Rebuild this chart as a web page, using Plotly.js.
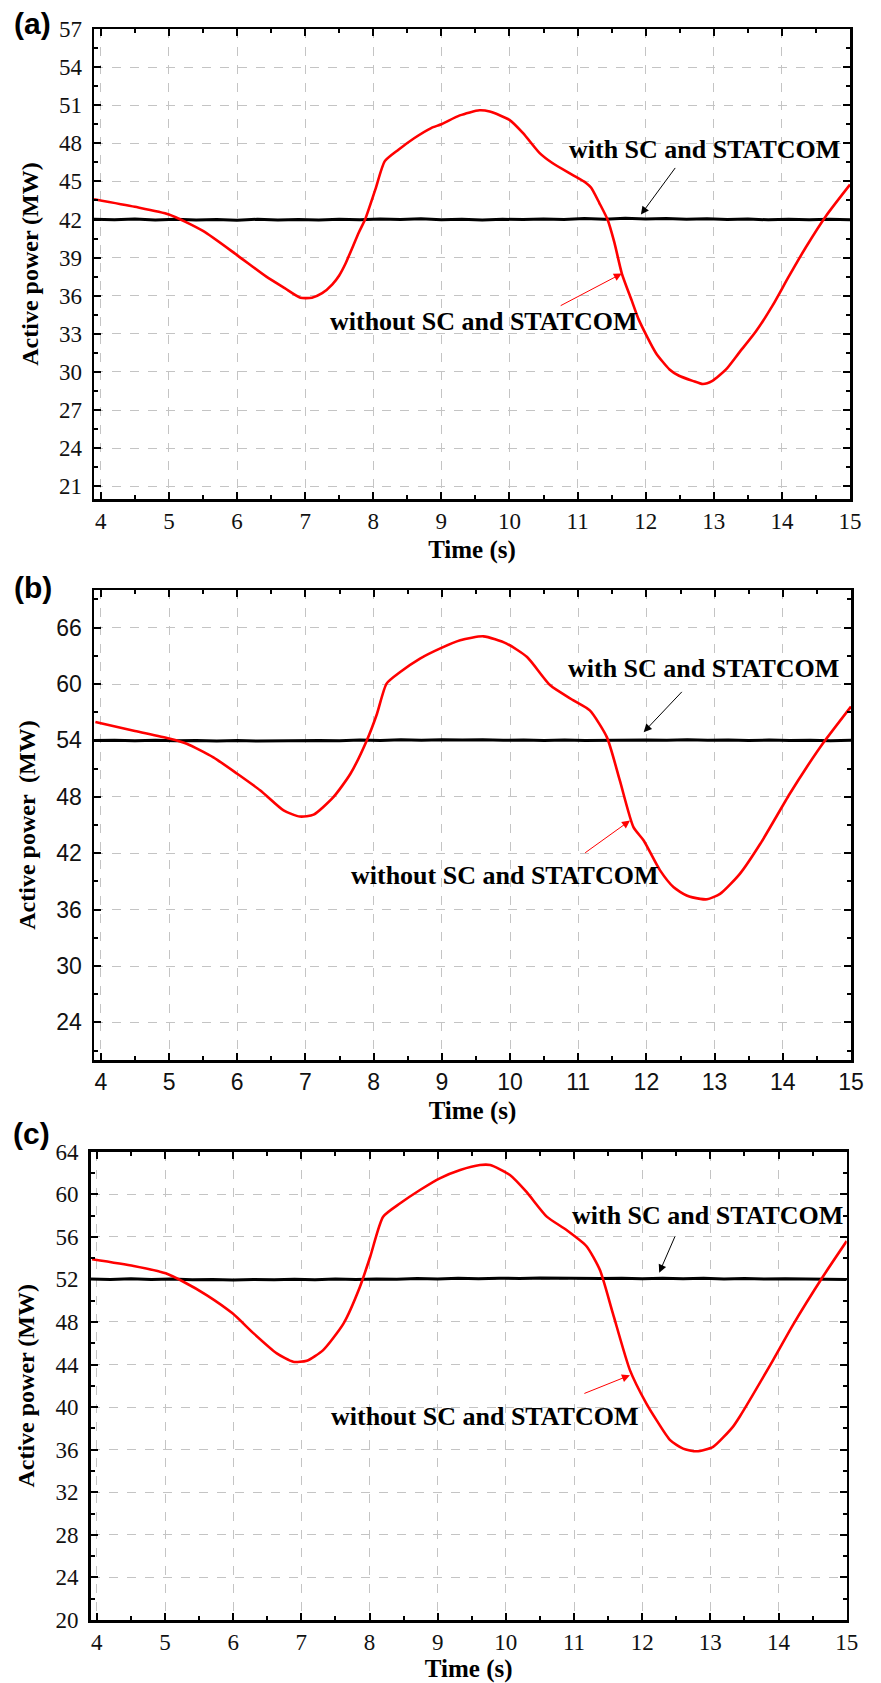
<!DOCTYPE html>
<html><head><meta charset="utf-8">
<script src="https://cdn.plot.ly/plotly-3.0.1.min.js"></script>
<style>html,body{margin:0;padding:0;background:#fff}#chart{width:881px;height:1683px}</style>
</head><body><div id="chart"></div>
<script>
// ---- Panel (a): without SC and STATCOM ----
const timeRedA = [3.9,4.5,5.0,5.5,6.0,6.43,6.7,6.93,7.1,7.25,7.4,7.5,7.59,7.79,7.88,8.03,8.17,8.37,8.6,8.85,9.0,9.27,9.56,9.71,10.0,10.2,10.44,10.63,10.93,11.12,11.2,11.32,11.44,11.54,11.65,11.79,11.9,12.15,12.35,12.49,12.69,12.84,12.98,13.18,13.37,13.62,13.86,14.1,14.35,14.65,15.0];
const redA = [43.6,43.0,42.4,41.1,39.2,37.5,36.6,35.85,35.85,36.2,36.9,37.6,38.5,41.0,42.0,44.35,46.6,47.5,48.4,49.2,49.5,50.2,50.6,50.5,49.85,48.8,47.25,46.45,45.5,44.9,44.5,43.3,42.0,40.2,37.75,35.7,34.1,31.5,30.2,29.7,29.3,29.05,29.3,30.2,31.5,33.2,35.2,37.5,39.8,42.3,44.75];
// ---- Panel (b) ----
const timeRedB = [3.92,4.5,5.0,5.26,5.65,6.0,6.34,6.68,6.92,7.12,7.41,7.66,7.9,8.05,8.19,8.39,8.68,8.97,9.27,9.61,9.95,10.25,10.59,10.93,11.17,11.42,11.61,11.81,11.96,12.2,12.4,12.59,12.79,12.89,13.08,13.37,13.67,14.1,14.35,14.6,15.0];
const redB = [55.95,55.0,54.2,53.65,52.2,50.45,48.67,46.55,45.9,46.1,47.96,50.45,54.0,56.84,60.04,61.27,62.7,63.76,64.65,65.07,64.3,62.87,59.86,58.26,57.19,54.35,49.74,44.77,43.35,40.17,38.37,37.5,37.14,37.1,37.67,39.8,43.0,48.3,51.15,53.8,57.6];
// ---- Panel (c) ----
const timeRedC = [3.93,4.54,5.01,5.27,5.61,5.99,6.3,6.64,6.88,7.08,7.32,7.62,7.86,8.01,8.2,8.45,8.74,9.03,9.33,9.62,9.77,10.06,10.3,10.6,10.89,11.18,11.38,11.57,11.82,12.06,12.21,12.41,12.6,12.8,13.04,13.33,13.43,13.92,14.21,14.65,15.0];
const redC = [53.89,53.26,52.57,51.78,50.53,48.81,46.93,45.05,44.26,44.36,45.36,47.87,51.31,54.13,57.89,59.15,60.4,61.5,62.28,62.75,62.75,61.81,60.24,57.9,56.64,55.14,52.88,48.81,43.48,40.35,38.78,36.9,36.1,35.85,36.27,38.15,39.1,44.42,47.71,52.25,55.6];
// ---- with SC and STATCOM (black) ----
const timeBlack = [3.9,4.2,4.5,4.8,5.1,5.4,5.7,6.0,6.3,6.6,6.9,7.2,7.5,7.8,8.1,8.4,8.7,9.0,9.3,9.6,9.9,10.2,10.5,10.8,11.1,11.4,11.7,12.0,12.3,12.6,12.9,13.2,13.5,13.8,14.1,14.4,14.7,15.0];
const blackA = [42.02,41.98,42.05,41.97,42.03,41.96,42.0,41.95,42.02,41.97,42.01,41.96,42.03,41.98,42.04,42.0,42.06,41.99,42.03,41.97,42.02,42.0,42.05,42.01,42.08,42.03,42.1,42.04,42.09,42.02,42.06,42.0,42.04,41.98,42.03,41.99,42.02,41.98];
const blackB = [53.98,54.02,53.96,54.01,53.95,53.99,53.94,53.98,53.93,53.97,53.95,54.0,53.97,54.03,54.0,54.06,54.02,54.08,54.03,54.07,54.01,54.05,54.0,54.04,53.99,54.03,54.0,54.05,54.02,54.06,54.01,54.04,53.99,54.03,53.98,54.02,53.97,54.01];
const blackC = [52.05,52.0,52.06,51.99,52.03,51.96,52.0,51.95,51.99,51.96,52.01,51.98,52.03,52.0,52.05,52.02,52.08,52.04,52.1,52.06,52.12,52.08,52.13,52.1,52.14,52.09,52.12,52.07,52.11,52.06,52.1,52.05,52.08,52.03,52.06,52.02,52.05,52.0];
// ---- tick settings ----
const yTicksA = {tick0: 21, dtick: 3, range: [20, 57]};
const yTicksB = {tick0: 24, dtick: 6, range: [20, 70]};
const yTicksC = {tick0: 20, dtick: 4, range: [20, 64]};
const labelWith = 'with SC and STATCOM';
const labelWithout = 'without SC and STATCOM';
const yTitleA = 'Active power (MW)';
const yTitleB = 'Active power  (MW)';
const xTitle = 'Time (s)';

const SERIF = '"Liberation Serif", "Times New Roman", serif';
const SANS = '"Liberation Sans", Arial, sans-serif';
const W = 881, H = 1683;
const px = v => v / W, py = v => 1 - v / H;

function xAxis(d0, d1, rng, fam, anchor) {
  return {domain: [px(d0), px(d1)], range: rng, anchor: anchor, tick0: 4, dtick: 1,
    ticks: 'inside', ticklen: 7, tickwidth: 2, tickcolor: '#000',
    showline: true, linewidth: 2.5, linecolor: '#000', mirror: 'ticks',
    showgrid: true, gridcolor: '#c4c4c4', griddash: 'dash', gridwidth: 1, zeroline: false,
    tickfont: {family: fam, size: 23, color: '#111'},
    minor: {dtick: 0.5, ticks: 'inside', ticklen: 4, tickcolor: '#000', showgrid: false},
    title: {text: '<b>' + xTitle + '</b>', font: {family: SERIF, size: 25, color: '#000'}, standoff: 8}};
}
function yAxis(t0, t1, tk, fam, anchor, title, minorD) {
  return {domain: [py(t1), py(t0)], range: tk.range, tick0: tk.tick0, dtick: tk.dtick, anchor: anchor,
    ticks: 'inside', ticklen: 7, tickwidth: 2, tickcolor: '#000',
    showline: true, linewidth: 2.5, linecolor: '#000', mirror: 'ticks',
    showgrid: true, gridcolor: '#c4c4c4', griddash: 'dash', gridwidth: 1, zeroline: false,
    ticklabelstandoff: 5,
    tickfont: {family: fam, size: 23, color: '#111'},
    minor: {dtick: minorD, ticks: 'inside', ticklen: 4, tickcolor: '#000', showgrid: false},
    title: {text: '<b>' + title + '</b>', font: {family: SERIF, size: 24, color: '#000'}, standoff: 14}};
}

const traces = [
  {x: timeBlack, y: blackA, xaxis: 'x', yaxis: 'y', mode: 'lines', line: {color: '#000', width: 3}},
  {x: timeRedA, y: redA, xaxis: 'x', yaxis: 'y', mode: 'lines', line: {color: '#ff0000', width: 2.6, shape: 'spline', smoothing: 0.6}},
  {x: timeBlack, y: blackB, xaxis: 'x2', yaxis: 'y2', mode: 'lines', line: {color: '#000', width: 3}},
  {x: timeRedB, y: redB, xaxis: 'x2', yaxis: 'y2', mode: 'lines', line: {color: '#ff0000', width: 2.6, shape: 'spline', smoothing: 0.6}},
  {x: timeBlack, y: blackC, xaxis: 'x3', yaxis: 'y3', mode: 'lines', line: {color: '#000', width: 3}},
  {x: timeRedC, y: redC, xaxis: 'x3', yaxis: 'y3', mode: 'lines', line: {color: '#ff0000', width: 2.6, shape: 'spline', smoothing: 0.6}}
];

function txt(xr, yr, x, y, t) {
  return {xref: xr, yref: yr, x: x, y: y, text: '<b>' + t + '</b>', showarrow: false,
    xanchor: 'center', yanchor: 'middle', font: {family: SERIF, size: 26, color: '#000'}};
}
function arr(xr, yr, x, y, ax, ay, col) {
  return {xref: xr, yref: yr, axref: xr, ayref: yr, x: x, y: y, ax: ax, ay: ay, text: '',
    showarrow: true, arrowhead: 2, arrowsize: 1.6, arrowwidth: 1, arrowcolor: col, standoff: 0, startstandoff: 0};
}
function panel(x, y, t) {
  return {xref: 'paper', yref: 'paper', x: px(x), y: py(y), text: '<b>' + t + '</b>', showarrow: false,
    xanchor: 'center', yanchor: 'middle', font: {family: SANS, size: 30, color: '#000'}};
}

const layout = {
  width: W, height: H, margin: {l: 0, r: 0, t: 0, b: 0},
  paper_bgcolor: '#fff', plot_bgcolor: '#fff', showlegend: false,
  font: {family: SERIF, color: '#000'},
  xaxis: xAxis(94, 850, [3.9, 15], SERIF, 'y'),
  yaxis: yAxis(29, 499, yTicksA, SERIF, 'x', yTitleA, 1.5),
  xaxis2: xAxis(94, 851, [3.9, 15], SANS, 'y2'),
  yaxis2: yAxis(590, 1060, yTicksB, SANS, 'x2', yTitleB, 3),
  xaxis3: xAxis(90.7, 846.7, [3.91, 15], SERIF, 'y3'),
  yaxis3: yAxis(1151.7, 1620, yTicksC, SERIF, 'x3', yTitleA, 2),
  annotations: [
    panel(32, 23, '(a)'), panel(33, 587, '(b)'), panel(31, 1133, '(c)'),
    txt('x', 'y', 12.86, 47.5, labelWith),
    arr('x', 'y', 11.93, 42.39, 12.45, 46.18, '#000'),
    txt('x', 'y', 9.62, 34.0, labelWithout),
    arr('x', 'y', 11.65, 37.75, 10.73, 35.16, '#ff0000'),
    txt('x2', 'y2', 12.84, 61.63, labelWith),
    arr('x2', 'y2', 11.96, 54.88, 12.54, 59.32, '#000'),
    txt('x2', 'y2', 9.93, 39.62, labelWithout),
    arr('x2', 'y2', 11.76, 45.48, 11.08, 41.93, '#ff0000'),
    txt('x3', 'y3', 12.96, 57.98, labelWith),
    arr('x3', 'y3', 12.25, 52.63, 12.49, 56.17, '#000'),
    txt('x3', 'y3', 9.69, 39.16, labelWithout),
    arr('x3', 'y3', 11.82, 43.0, 11.13, 41.23, '#ff0000')
  ]
};
Plotly.newPlot('chart', traces, layout, {displayModeBar: false, staticPlot: true});
</script>
</body></html>
